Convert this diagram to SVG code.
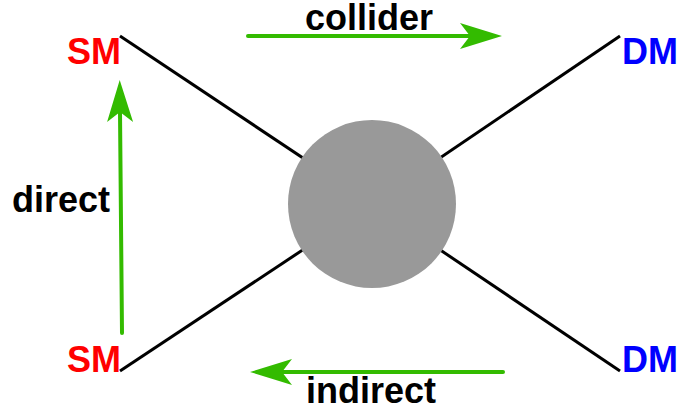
<svg xmlns="http://www.w3.org/2000/svg" width="681" height="414" viewBox="0 0 681 414">
  <style>
    .leg { stroke: #000; stroke-width: 3; fill: none; }
    .flow { stroke: #33bb00; stroke-width: 4; stroke-linecap: round; fill: none; }
    .lbl { font-family: "Liberation Sans", Arial, Helvetica, sans-serif; font-weight: bold; font-size: 36px; }
    .sm { fill: #ff0000; }
    .dm { fill: #0000ff; }
    .txt { fill: #000; }
  </style>
  <defs>
    <marker id="head" markerUnits="userSpaceOnUse" viewBox="-12 -14 46 28" refX="0" refY="0" markerWidth="46" markerHeight="28" orient="auto">
      <path d="M32,0 L-10,-13 L0,0 L-10,13 Z" fill="#33bb00"/>
    </marker>
  </defs>

  <!-- external legs meeting at the blob -->
  <g id="connectors">
    <line class="leg" x1="120" y1="36" x2="372" y2="204"/>
    <line class="leg" x1="620" y1="36" x2="372" y2="204"/>
    <line class="leg" x1="120" y1="371" x2="372" y2="204"/>
    <line class="leg" x1="620" y1="371" x2="372" y2="204"/>
    <path class="flow" d="M248,36 H470" marker-end="url(#head)"/>
    <path class="flow" d="M503,372 H282" marker-end="url(#head)"/>
    <path class="flow" d="M122,333 L120,112" marker-end="url(#head)"/>
  </g>

  <g id="blob">
    <circle cx="372" cy="204" r="84" fill="#999999"/>
  </g>

  <g id="sm-top"><text class="lbl sm" x="121" y="63.5" text-anchor="end">SM</text></g>
  <g id="sm-bottom"><text class="lbl sm" x="121" y="371.5" text-anchor="end">SM</text></g>
  <g id="dm-top"><text class="lbl dm" x="622" y="63.5">DM</text></g>
  <g id="dm-bottom"><text class="lbl dm" x="622" y="371.5">DM</text></g>

  <g id="labels">
    <text class="lbl txt" x="305" y="30">collider</text>
    <text class="lbl txt" x="306" y="403">indirect</text>
    <text class="lbl txt" x="12" y="212">direct</text>
  </g>
</svg>
